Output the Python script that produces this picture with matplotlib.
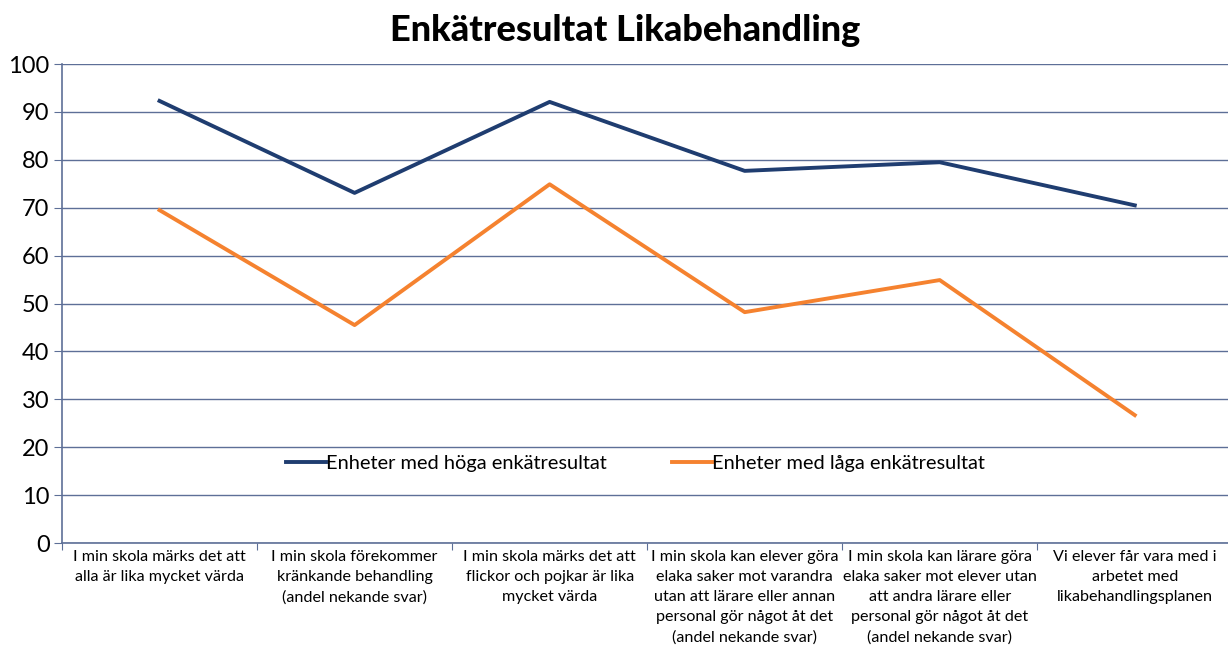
import matplotlib.pyplot as plt

plt.rcParams['font.family'] = ['Lato', 'DejaVu Sans']

categories = [
    'I min skola märks det att\nalla är lika mycket värda',
    'I min skola förekommer\nkränkande behandling\n(andel nekande svar)',
    'I min skola märks det att\nflickor och pojkar är lika\nmycket värda',
    'I min skola kan elever göra\nelaka saker mot varandra\nutan att lärare eller annan\npersonal gör något åt det\n(andel nekande svar)',
    'I min skola kan lärare göra\nelaka saker mot elever utan\natt andra lärare eller\npersonal gör något åt det\n(andel nekande svar)',
    'Vi elever får vara med i\narbetet med\nlikabehandlingsplanen',
]
hoga = [92.3, 73.1, 92.1, 77.7, 79.5, 70.5]
laga = [69.5, 45.5, 74.9, 48.2, 54.9, 26.7]

grid_color = '#5d6f97'

fig = plt.figure(figsize=(12.28, 6.57), dpi=100)
ax = fig.add_axes([0.0505, 0.1735, 0.953, 0.729])

x = range(len(categories))
ax.plot(x, hoga, color='#1f3d70', lw=2.8, label='Enheter med höga enkätresultat')
ax.plot(x, laga, color='#f5822f', lw=2.8, label='Enheter med låga enkätresultat')

ax.set_xlim(-0.5, len(categories) - 0.5)
ax.set_ylim(0, 100)
ax.set_yticks(range(0, 101, 10))
ax.yaxis.grid(True, color=grid_color, lw=1.0)
ax.set_axisbelow(True)

ax.set_xticks([i - 0.5 for i in range(len(categories) + 1)])
ax.set_xticklabels([])
ax.set_xticks(list(x), minor=True)
ax.set_xticklabels(categories, minor=True, fontsize=11.6, linespacing=1.55)
ax.tick_params(axis='x', which='major', length=5, color=grid_color, direction='out')
ax.tick_params(axis='x', which='minor', length=0, pad=5)
ax.tick_params(axis='y', length=6, color=grid_color, labelsize=17, pad=3)

for s in ['top', 'right']:
    ax.spines[s].set_visible(False)
for s in ['left', 'bottom']:
    ax.spines[s].set_color(grid_color)
    ax.spines[s].set_linewidth(1.2)

ax.legend(loc='center', bbox_to_anchor=(0.49, 0.167), ncol=2, frameon=False,
          fontsize=14.4, handlelength=2.0, handletextpad=0.0, columnspacing=3.3)

fig.text(0.509, 0.954, 'Enkätresultat Likabehandling', ha='center', va='center',
         fontsize=26, fontweight='black')

fig.savefig('out.png', dpi=100)
